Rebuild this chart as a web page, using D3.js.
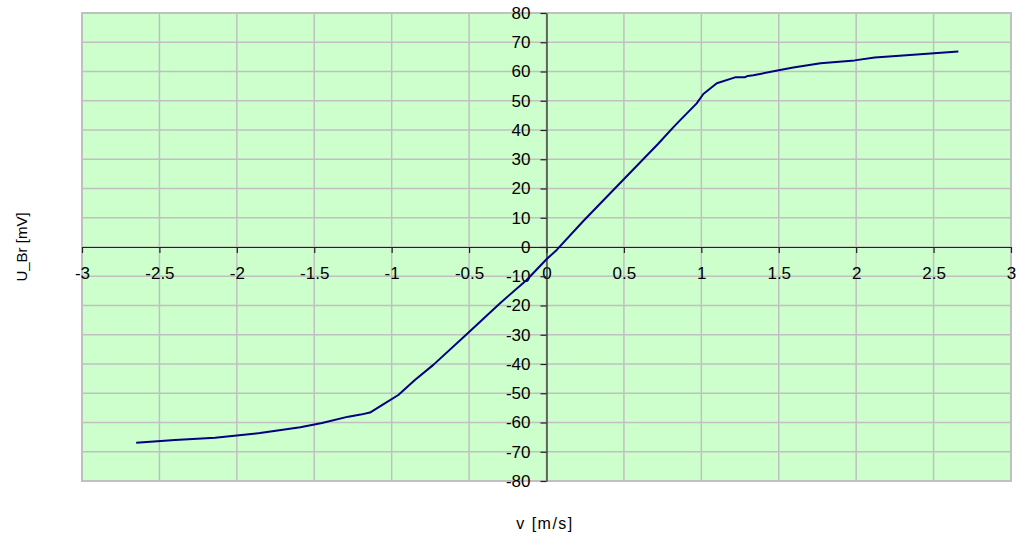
<!DOCTYPE html>
<html><head><meta charset="utf-8">
<script src="https://cdn.jsdelivr.net/npm/d3@7"></script>
<style>
html,body{margin:0;padding:0;background:#fff;}
svg{display:block;font-family:"Liberation Sans",Arial,sans-serif;}
</style></head>
<body>
<svg id="chart" width="1021" height="537"></svg>
<script>
const vValues = [-2.65,-2.4,-2.14,-1.85,-1.59,-1.45,-1.28,-1.2,-1.14,-1.06,-0.957,-0.85,-0.731,-0.505,-0.30,-0.128,0.0,0.066,0.238,0.507,0.72,0.82,0.862,0.97,1.013,1.10,1.218,1.28,1.30,1.336,1.508,1.594,1.77,1.99,2.12,2.28,2.66];
const uValues = [-66.9,-66,-65.2,-63.6,-61.6,-60.2,-58,-57.3,-56.6,-54,-50.6,-45.5,-40.3,-29.3,-19.2,-11.3,-4.2,-1.0,8.9,23.6,35.2,41,43.3,49.1,52.3,56,58,58,58.5,58.7,60.5,61.4,62.8,63.8,64.8,65.4,66.8];
const xTicks = [-3,-2.5,-2,-1.5,-1,-0.5,0,0.5,1,1.5,2,2.5,3];
const yTicks = [-80,-70,-60,-50,-40,-30,-20,-10,0,10,20,30,40,50,60,70,80];
const xTitle = "v [m/s]";
const yTitle = "U_Br [mV]";

const svg = d3.select("#chart");
const L = 82, R = 1011, T = 13, B = 481;
const x = d3.scaleLinear().domain([-3,3]).range([L,R]);
const y = d3.scaleLinear().domain([-80,80]).range([B,T]);

svg.append("rect").attr("x",L).attr("y",T).attr("width",R-L).attr("height",B-T)
  .attr("fill","#ccffcc");

const grid = svg.append("g").attr("stroke","#c0c0c0").attr("stroke-width",1.5);
grid.selectAll(".gx").data(xTicks).join("line")
  .attr("x1",d=>x(d)).attr("x2",d=>x(d)).attr("y1",T).attr("y2",B);
grid.selectAll(".gy").data(yTicks).join("line")
  .attr("y1",d=>y(d)).attr("y2",d=>y(d)).attr("x1",L).attr("x2",R);

svg.append("rect").attr("x",L).attr("y",T).attr("width",R-L).attr("height",B-T)
  .attr("fill","none").attr("stroke","#c0c0c0").attr("stroke-width",2);

const xAxis = svg.append("g").attr("transform",`translate(0,${y(0)})`)
  .call(d3.axisBottom(x).tickValues(xTicks).tickSize(6).tickSizeOuter(0).tickPadding(14)
        .tickFormat(d=>String(d)));
const yAxis = svg.append("g").attr("transform",`translate(${x(0)},0)`)
  .call(d3.axisLeft(y).tickValues(yTicks).tickSize(6).tickSizeOuter(0).tickPadding(10)
        .tickFormat(d=>String(d)));
[xAxis,yAxis].forEach(a=>{
  a.selectAll("path,line").attr("stroke","#222").attr("stroke-width",1.2);
  a.selectAll("text").attr("font-size",17).attr("fill","#000")
    .attr("font-family","'Liberation Sans',Arial,sans-serif");
});

const pts = vValues.map((v,i)=>[v,uValues[i]]);
svg.append("path").datum(pts)
  .attr("fill","none").attr("stroke","#000080").attr("stroke-width",2)
  .attr("stroke-linejoin","round")
  .attr("d",d3.line().x(d=>x(d[0])).y(d=>y(d[1])));

svg.append("text").attr("x",545).attr("y",529).attr("text-anchor","middle")
  .attr("font-size",16).attr("letter-spacing",1.5).text(xTitle);
svg.append("text").attr("transform","translate(27,247) rotate(-90)")
  .attr("text-anchor","middle").attr("font-size",15).text(yTitle);
</script>
</body></html>
